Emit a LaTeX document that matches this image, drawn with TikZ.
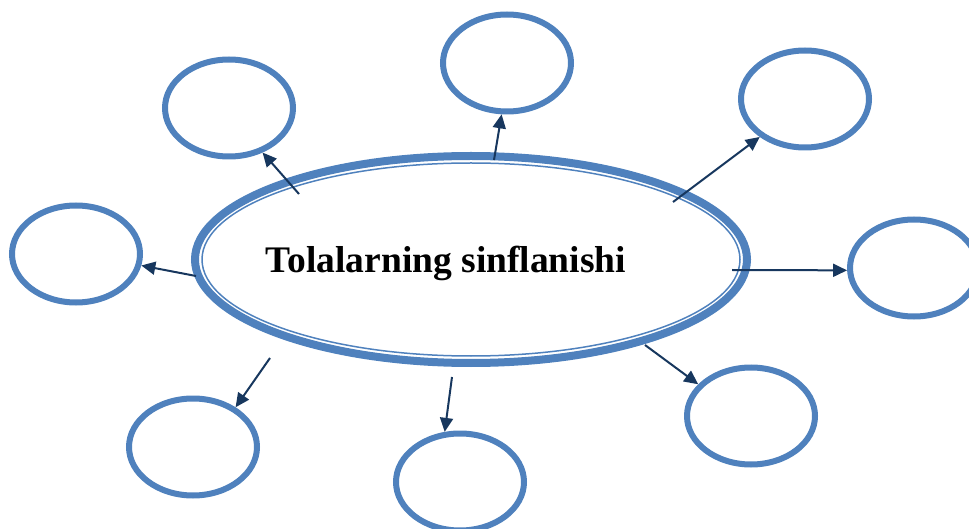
\documentclass[tikz,border=0pt]{standalone}
\usepackage{fontspec}
\setmainfont{Liberation Serif}
\usetikzlibrary{shapes.geometric, arrows.meta, calc, positioning}
\definecolor{ovalblue}{HTML}{4F81BD}
\definecolor{arrownavy}{HTML}{17375E}
\tikzstyle{arrow} = [line width=2pt, draw=arrownavy, -{Triangle[length=14pt,width=13pt]}]
\tikzstyle{leaf} = [ellipse, minimum width=128pt, minimum height=97pt, inner sep=0pt, draw=ovalblue, line width=6pt, fill=white]

\begin{document}
\begin{tikzpicture}[x=1pt, y=1pt,
        bigoval/.style={ellipse, minimum width=552pt, minimum height=207pt, inner sep=0pt, draw=ovalblue, line width=8pt},
        every node/.style={font=\bfseries\fontsize{37.5}{42}\selectfont}]
    \useasboundingbox (0,0) rectangle (969,528);

    \node [bigoval] (center) at (471,268.5) {};
    \draw [ovalblue, line width=1.5pt] (center.center) ellipse (269 and 96.5);
    \node [anchor=base] (title) at (446,255) {Tolalarning sinflanishi};

    \node [leaf] (topleft) at (229,420) {};
    \node [leaf] (top) at (507,465) {};
    \node [leaf] (topright) at (805,429) {};
    \node [leaf] (left) at (76,274) {};
    \node [leaf] (right) at (914,260) {};
    \node [leaf] (botleft) at (193,81) {};
    \node [leaf] (bot) at (460,46) {};
    \node [leaf] (botright) at (751,112) {};

    \coordinate (Qa) at (299,334);
    \coordinate (Qb) at (494,368);
    \coordinate (Qc) at (673,326);
    \coordinate (Qd) at (196,252);
    \coordinate (Qe) at (732,258);
    \coordinate (Qf) at (270,170);
    \coordinate (Qg) at (452,151);
    \coordinate (Qh) at (645,183);

    \draw[arrow] (Qa) -- (topleft.-53.6);
    \draw[arrow] (Qb) -- (top.-96);
    \draw[arrow] (Qc) -- (topright.-140);
    \draw[arrow] (Qd) -- (left.-10);
    \draw[arrow] (Qe) -- (right.182);
    \draw[arrow] (Qf) -- (botleft.43.5);
    \draw[arrow] (Qg) -- (bot.107.5);
    \draw[arrow] (Qh) -- (botright.149);
\end{tikzpicture}
\end{document}
